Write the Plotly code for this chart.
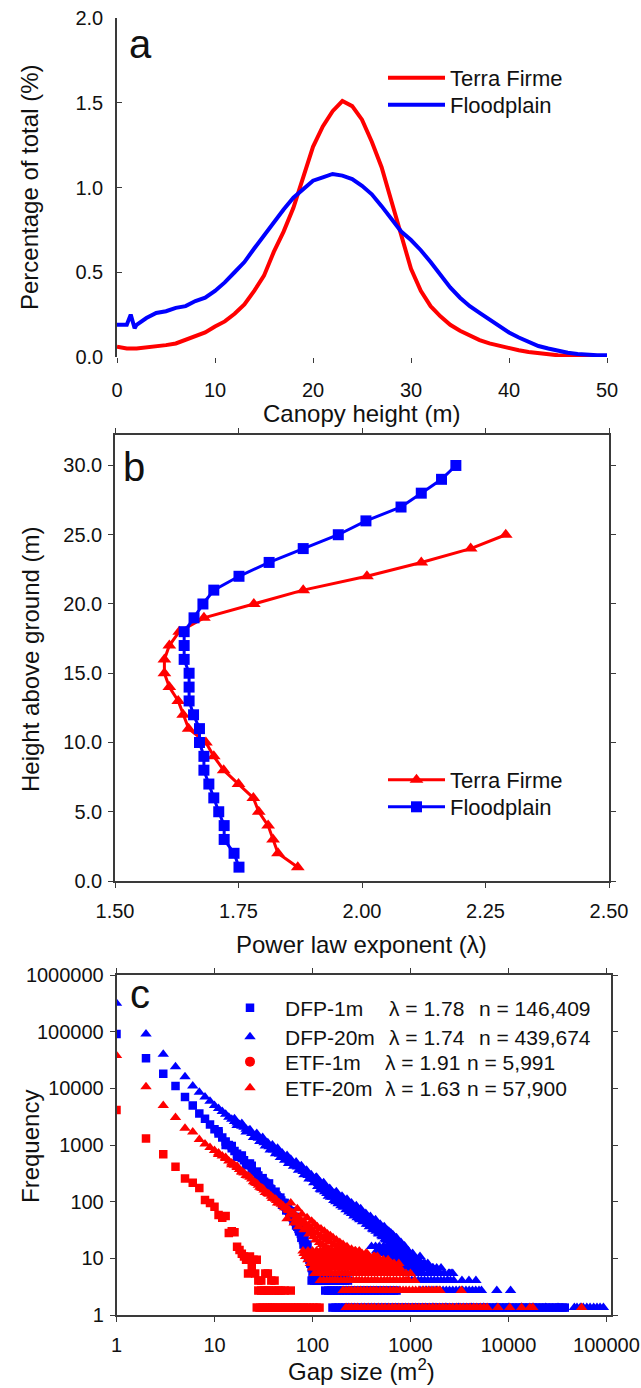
import plotly.graph_objects as go

W, H = 641, 1388
FONT = "Liberation Sans, Arial, sans-serif"
RED = "#FF0000"
BLUE = "#0000FF"
AX = "#3a3a3a"

# ---------------- Panel a: canopy height distribution ----------------
tf_height = [0, 1, 2, 3, 4, 5, 6, 7, 8, 9, 10, 11, 12, 13, 14, 15, 16, 17, 18, 19, 20,
             21, 22, 23, 24, 25, 26, 27, 28, 29, 30, 31, 32, 33, 34, 35, 36, 37, 38, 39, 40,
             41, 42, 43, 44, 45, 46, 47, 48, 49, 50]
tf_pct = [0.06, 0.05, 0.05, 0.055, 0.06, 0.07, 0.08, 0.10, 0.12, 0.145, 0.18, 0.21, 0.255,
          0.31, 0.39, 0.48, 0.62, 0.74, 0.88, 1.06, 1.24, 1.36, 1.45, 1.51, 1.48, 1.40, 1.27,
          1.12, 0.92, 0.70, 0.52, 0.39, 0.30, 0.24, 0.19, 0.155, 0.125, 0.10, 0.08, 0.065,
          0.05, 0.04, 0.03, 0.022, 0.015, 0.01, 0.007, 0.005, 0.004, 0.004, 0.004]
fp_height = [0, 1, 1.4, 1.8, 2, 3, 4, 5, 6, 7, 8, 9, 10, 11, 12, 13, 14, 15, 16, 17, 18, 19, 20,
             21, 22, 23, 24, 25, 26, 27, 28, 29, 30, 31, 32, 33, 34, 35, 36, 37, 38, 39, 40,
             41, 42, 43, 44, 45, 46, 47, 48, 49, 50]
fp_pct = [0.19, 0.19, 0.25, 0.17, 0.19, 0.23, 0.26, 0.27, 0.29, 0.30, 0.33, 0.35, 0.39, 0.44,
          0.50, 0.56, 0.64, 0.72, 0.79, 0.87, 0.94, 0.99, 1.04, 1.06, 1.08, 1.07, 1.05, 1.01,
          0.96, 0.89, 0.81, 0.74, 0.69, 0.63, 0.56, 0.48, 0.41, 0.35, 0.30, 0.26, 0.22, 0.18,
          0.145, 0.115, 0.09, 0.065, 0.05, 0.035, 0.025, 0.018, 0.013, 0.01, 0.01]

# ---------------- Panel b: power law exponent vs height ----------------
tf_b_height = list(range(1, 26))
tf_b_lambda = [1.870, 1.830, 1.820, 1.810, 1.791, 1.780, 1.750, 1.720, 1.700, 1.684,
               1.649, 1.638, 1.628, 1.610, 1.600, 1.600, 1.610, 1.630, 1.680, 1.781,
               1.881, 2.010, 2.120, 2.220, 2.291]
fp_b_height = list(range(1, 31))
fp_b_lambda = [1.751, 1.741, 1.721, 1.721, 1.710, 1.700, 1.690, 1.680, 1.680, 1.671,
               1.671, 1.659, 1.650, 1.650, 1.650, 1.640, 1.640, 1.640, 1.660, 1.678,
               1.700, 1.751, 1.812, 1.881, 1.952, 2.008, 2.079, 2.120, 2.161, 2.190]

# ---------------- Panel c: gap size frequency (gap size, frequency) ----------------
dfp1m = [(1, 91000), (2, 34000), (3, 18000), (4, 11000), (5, 7000), (6, 5000), (7, 3600),
         (8, 2900), (9, 2300), (10, 1900), (11, 1600), (12, 1350), (13, 1150), (14, 1000),
         (15, 880), (16, 780), (17, 700), (18, 640), (19, 590), (20, 540), (22, 460), (24, 390),
         (26, 330), (28, 290), (30, 250), (32, 225), (35, 190), (38, 165), (40, 145), (43, 128),
         (46, 115), (50, 95), (53, 82), (57, 70), (60, 60), (63, 52), (67, 44), (70, 36),
         (74, 30), (78, 24), (82, 19), (85, 15), (88, 12.15), (90, 10.8), (93, 9.45), (95, 8.1),
         (98, 6.75), (100, 5.4),
         (24, 430), (28, 260), (33, 215), (37, 170), (44, 120), (48, 105), (55, 75), (58, 66),
         (62, 58), (65, 48), (69, 40), (72, 33), (76, 27), (80, 21), (84, 17.5), (86, 13.5),
         (91, 12.15), (96, 9.45), (102, 6.75), (106, 8.1), (110, 5.4), (115, 6.75), (118, 5.4),
         (125, 5.4),
         (11, 1750), (13, 1000), (15, 960), (17, 620), (19, 650), (21, 440), (23, 470), (25, 330),
         (27, 340), (29, 240), (31, 260), (34, 180), (36, 210), (39, 140), (42, 150), (45, 105),
         (47, 118), (49, 88), (52, 95), (54, 70), (56, 82), (59, 58), (61, 68), (64, 46), (66, 54),
         (68, 38), (71, 44), (73, 30), (75, 36), (77, 23), (79, 28), (81, 17.5), (83, 22),
         (87, 14.85), (89, 17.5), (92, 12.15), (94, 10.8), (97, 8.1), (99, 9.45), (101, 6.75),
         (103, 8.1), (107, 6.75), (109, 5.4), (112, 6.75), (120, 5.4), (128, 5.4), (135, 5.4),
         (98, 4.05), (104, 4.05), (110, 4.05), (116, 4.05), (122, 4.05), (130, 4.05), (138, 4.05),
         (146, 4.05), (155, 4.05), (165, 4.05), (175, 4.05), (188, 4.05), (200, 4.05), (215, 4.05),
         (230, 4.05),
         (135, 2.7), (145, 2.7), (155, 2.7), (165, 2.7), (178, 2.7), (190, 2.7), (205, 2.7),
         (220, 2.7), (238, 2.7), (255, 2.7), (275, 2.7), (295, 2.7), (320, 2.7), (345, 2.7),
         (370, 2.7), (400, 2.7), (430, 2.7), (465, 2.7), (500, 2.7), (540, 2.7), (585, 2.7),
         (630, 2.7), (680, 2.7), (720, 2.7),
         (160, 1.35), (172, 1.35), (185, 1.35), (200, 1.35), (215, 1.35), (232, 1.35), (250, 1.35),
         (270, 1.35), (290, 1.35), (315, 1.35), (340, 1.35), (365, 1.35), (395, 1.35), (425, 1.35),
         (460, 1.35), (500, 1.35), (540, 1.35), (580, 1.35), (630, 1.35), (680, 1.35), (730, 1.35),
         (790, 1.35), (850, 1.35), (920, 1.35), (1000, 1.35), (1080, 1.35), (1170, 1.35),
         (1260, 1.35), (1360, 1.35), (1470, 1.35), (1590, 1.35), (1720, 1.35), (1860, 1.35),
         (2010, 1.35), (2170, 1.35), (2350, 1.35), (2540, 1.35), (2740, 1.35), (2960, 1.35),
         (3200, 1.35), (3460, 1.35), (3740, 1.35), (4040, 1.35), (4370, 1.35), (4720, 1.35),
         (5100, 1.35), (5510, 1.35), (5950, 1.35), (6430, 1.35), (6950, 1.35), (7510, 1.35),
         (8110, 1.35), (8770, 1.35), (9480, 1.35), (10250, 1.35), (11080, 1.35), (11980, 1.35),
         (12950, 1.35), (14000, 1.35), (15130, 1.35), (16360, 1.35), (17680, 1.35), (19110, 1.35),
         (20660, 1.35), (22330, 1.35), (24140, 1.35), (26100, 1.35), (28210, 1.35), (30500, 1.35),
         (32970, 1.35), (35640, 1.35), (37500, 1.35)]

dfp20m = [(1, 316000), (2, 91000), (3, 40000), (4, 24000), (5, 16000), (6, 11000), (7, 8500),
          (8, 7000), (9, 5900), (10, 5000), (11, 4400), (12, 3900), (13, 3500), (14, 3100),
          (15, 2850), (16, 2600), (17, 2450), (18, 2300), (19, 2150), (20, 2050), (21, 1900),
          (22, 1800), (24, 1600), (26, 1450), (28, 1320), (30, 1200), (32, 1100), (34, 1010),
          (36, 930), (38, 870), (40, 820), (43, 750), (46, 690), (50, 620), (54, 570), (58, 520),
          (62, 480), (66, 445), (70, 410), (75, 375), (80, 340), (85, 315), (90, 290), (95, 270),
          (100, 250), (105, 245), (110, 220), (115, 210), (120, 200), (125, 185), (130, 175),
          (135, 170), (140, 160), (150, 145), (155, 150), (160, 135), (170, 125), (180, 118),
          (190, 110), (200, 105), (210, 100), (220, 92), (230, 88), (245, 80), (260, 75),
          (280, 68), (300, 62), (320, 58), (350, 50), (380, 46), (400, 42), (430, 38), (460, 34),
          (500, 30), (530, 28), (570, 25), (600, 23), (650, 20), (700, 18), (750, 16), (800, 14),
          (850, 13), (900, 11.5), (950, 10.5), (1000, 9.5), (1100, 8.1), (1200, 8.1), (1300, 6.75),
          (110, 270), (120, 165), (130, 215), (140, 140), (150, 170), (160, 120), (175, 150),
          (185, 95), (200, 125), (210, 85), (225, 110), (240, 70), (250, 95), (270, 60), (280, 85),
          (300, 50), (310, 75), (330, 45), (350, 62), (370, 40), (390, 55), (420, 32), (440, 48),
          (470, 28), (490, 40), (520, 24), (540, 36), (560, 21), (600, 30), (620, 19), (660, 26),
          (700, 15), (720, 23), (760, 13.5), (800, 19), (830, 12.15), (870, 16.5), (900, 9.45),
          (950, 13.5), (1000, 8.1), (1050, 12.15), (1100, 6.75), (1150, 9.45), (1250, 10.8),
          (1300, 5.4), (1400, 8.1), (1400, 6.75), (1500, 5.4), (1600, 6.75), (1650, 5.4),
          (1800, 5.4), (2000, 5.4), (2500, 5.4),
          (16, 2900), (17, 2200), (19, 2400), (21, 1700), (23, 1850), (25, 1350), (27, 1600),
          (29, 1150), (31, 1350), (33, 960), (35, 1100), (37, 820), (39, 1000), (42, 700),
          (44, 880), (47, 600), (49, 720), (52, 540), (55, 650), (57, 470), (60, 560), (64, 420),
          (68, 500), (72, 360), (77, 430), (82, 300), (87, 360), (92, 250), (97, 300), (103, 215),
          (108, 265), (113, 185), (118, 230), (123, 160), (128, 205), (133, 150), (138, 180),
          (145, 125), (148, 165), (153, 120), (158, 150), (165, 105), (168, 140), (173, 100),
          (178, 130), (183, 92), (188, 120), (195, 85), (198, 115), (205, 80), (215, 105),
          (220, 72), (228, 95), (235, 66), (242, 88), (250, 62), (258, 82), (265, 56), (275, 75),
          (285, 52), (295, 70), (305, 48), (315, 64), (325, 44), (340, 58), (355, 40), (365, 54),
          (380, 36), (395, 50), (410, 33), (425, 45), (445, 30), (455, 42), (475, 27), (485, 38),
          (510, 25), (525, 35), (550, 22), (580, 31), (590, 20), (630, 28), (640, 18), (680, 24),
          (690, 16), (730, 21), (740, 14.85), (780, 18), (790, 13.5), (820, 16.2), (860, 12.15),
          (880, 14.85), (920, 10.8), (980, 12.15), (1020, 9.45), (1080, 10.8), (1120, 8.1),
          (1180, 9.45), (1230, 6.75), (1280, 8.1), (1350, 6.75), (1450, 6.75), (1550, 5.4),
          (1700, 6.75), (1900, 5.4), (2200, 5.4), (2400, 4.05), (2600, 5.4),
          # dense low-count cloud of the 20 m dataset
          (400, 16.2), (440, 16.2), (480, 16.2), (530, 16.2), (580, 16.2), (640, 16.2),
          (450, 13.5), (500, 13.5), (550, 13.5), (600, 13.5), (660, 13.5), (720, 13.5),
          (500, 12.15), (550, 12.15), (600, 12.15), (660, 12.15), (720, 12.15), (790, 12.15),
          (870, 12.15), (560, 10.8), (610, 10.8), (670, 10.8), (740, 10.8), (810, 10.8),
          (890, 10.8), (980, 10.8), (620, 9.45), (680, 9.45), (750, 9.45), (820, 9.45),
          (900, 9.45), (990, 9.45), (1090, 9.45), (1200, 9.45), (700, 8.1), (770, 8.1),
          (850, 8.1), (930, 8.1), (1020, 8.1), (1120, 8.1), (1230, 8.1), (1350, 8.1), (1500, 8.1),
          (800, 6.75), (880, 6.75), (960, 6.75), (1050, 6.75), (1150, 6.75), (1250, 6.75),
          (1380, 6.75), (1520, 6.75), (1680, 6.75), (1850, 6.75), (2050, 6.75),
          (900, 5.4), (1000, 5.4), (1100, 5.4), (1200, 5.4), (1350, 5.4), (1650, 5.4),
          (1800, 5.4), (2200, 5.4), (2450, 5.4), (2700, 5.4),
          (950, 4.05), (1030, 4.05), (1110, 4.05), (1200, 4.05), (1290, 4.05), (1390, 4.05),
          (1500, 4.05), (1620, 4.05), (1750, 4.05), (1890, 4.05), (2040, 4.05), (2200, 4.05),
          (2370, 4.05), (2560, 4.05), (2760, 4.05), (3350, 4.05), (3950, 4.05), (4650, 4.05),
          (1250, 2.7), (1350, 2.7), (1460, 2.7), (1580, 2.7), (1700, 2.7), (1840, 2.7),
          (1990, 2.7), (2150, 2.7), (2320, 2.7), (2500, 2.7), (2700, 2.7), (2920, 2.7),
          (3150, 2.7), (3400, 2.7), (3680, 2.7), (3970, 2.7), (4290, 2.7), (4630, 2.7),
          (5000, 2.7), (5300, 2.7), (7600, 2.7), (10500, 2.7),
          (1700, 1.35), (2300, 1.35), (3100, 1.35), (4200, 1.35), (5600, 1.35), (7500, 1.35),
          (10000, 1.35), (13500, 1.35), (18000, 1.35), (24000, 1.35), (32000, 1.35),
          (47000, 1.35), (50000, 1.35), (54000, 1.35), (58000, 1.35), (63000, 1.35),
          (68000, 1.35), (74000, 1.35), (80000, 1.35), (86000, 1.35), (93000, 1.35)]

etf1m = [(1, 4150), (2, 1300), (3, 690), (4, 415), (5, 257), (6, 215), (7, 174), (8, 107),
         (9, 95), (10, 81), (11, 58), (12, 52), (13, 56), (14, 28), (15, 30), (16, 29), (17, 16),
         (18, 14), (19, 12), (20, 10.8), (21, 9.45), (23, 10.8), (25, 9.45), (27, 9.45),
         (22, 5.4), (24, 6.75), (26, 5.4), (33, 5.4), (35, 5.4), (28, 4.05), (30, 4.05),
         (38, 4.05), (41, 4.05),
         (28, 2.7), (30, 2.7), (32, 2.7), (34, 2.7), (36, 2.7), (39, 2.7), (42, 2.7), (45, 2.7),
         (48, 2.7), (52, 2.7), (60, 2.7),
         (27, 1.35), (29, 1.35), (31, 1.35), (33, 1.35), (35, 1.35), (37, 1.35), (39, 1.35),
         (41, 1.35), (44, 1.35), (47, 1.35), (50, 1.35), (53, 1.35), (56, 1.35), (60, 1.35),
         (64, 1.35), (68, 1.35), (72, 1.35), (77, 1.35), (82, 1.35), (88, 1.35), (94, 1.35),
         (102, 1.35), (110, 1.35), (118, 1.35)]

etf20m = [(1, 38000), (2, 10700), (3, 5000), (4, 3070), (5, 1970), (6, 1700), (7, 1250),
          (8, 1040), (9, 900), (10, 800), (11, 720), (12, 640), (13, 580), (14, 520), (15, 480),
          (16, 440), (17, 400), (18, 370), (19, 345), (20, 320), (22, 285), (24, 250), (26, 215),
          (28, 195), (30, 175), (32, 160), (35, 140), (38, 125), (40, 115), (43, 105), (46, 95),
          (50, 85), (54, 78), (58, 70), (62, 64), (66, 58), (70, 53), (75, 48), (80, 44), (85, 40),
          (90, 37), (95, 34), (100, 31), (110, 28), (120, 25), (130, 23), (140, 21), (150, 19.5),
          (165, 17.5), (180, 16), (200, 14.5), (220, 13.5), (240, 12.15), (260, 10.8), (290, 10.8),
          (320, 9.45), (350, 9.45), (380, 8.1), (420, 8.1), (460, 6.75), (500, 6.75), (550, 6.75),
          (600, 5.4), (650, 5.4), (700, 5.4), (750, 5.4), (800, 5.4), (850, 4.05),
          (11, 680), (13, 600), (15, 450), (17, 420), (19, 330), (21, 290), (23, 270), (25, 225),
          (27, 210), (29, 180), (31, 170), (33, 145), (36, 135), (39, 115), (42, 110), (44, 95),
          (48, 90), (52, 78), (56, 72), (60, 62), (64, 60), (68, 52), (73, 50), (77, 44), (83, 42),
          (87, 36), (93, 35), (97, 30),
          (55, 50), (60, 95), (65, 42), (70, 75), (72, 36), (78, 60), (82, 32), (88, 52), (92, 27),
          (98, 45), (102, 24), (105, 40), (108, 21), (112, 36), (118, 19), (122, 33), (126, 17.5),
          (132, 30), (136, 16), (142, 27), (146, 14.5), (152, 25), (158, 13.5), (162, 23),
          (168, 12.15), (175, 21), (185, 10.8), (190, 19), (196, 9.45), (205, 17.5), (215, 8.1),
          (225, 16), (235, 10.8), (250, 14.5), (265, 8.1), (275, 13.5), (285, 6.75), (300, 12.15),
          (310, 8.1), (330, 10.8), (340, 6.75), (360, 12.15), (375, 5.4), (390, 9.45), (410, 6.75),
          (430, 10.8), (450, 5.4), (470, 8.1), (490, 9.45), (520, 5.4), (540, 8.1), (570, 6.75),
          (590, 9.45), (620, 6.75), (680, 8.1), (720, 6.75), (760, 8.1), (780, 6.75), (820, 5.4),
          (900, 5.4), (950, 4.05), (1000, 5.4), (1100, 4.05),
          # dense low-count cloud of the 20 m terra firme dataset
          (80, 13.5), (90, 13.5), (100, 13.5), (110, 13.5), (120, 13.5), (132, 13.5), (144, 13.5),
          (157, 13.5), (172, 13.5), (188, 13.5), (205, 13.5), (225, 13.5), (248, 13.5),
          (272, 13.5), (300, 13.5),
          (82, 12.15), (92, 12.15), (102, 12.15), (112, 12.15), (122, 12.15), (134, 12.15),
          (146, 12.15), (160, 12.15), (175, 12.15), (190, 12.15), (207, 12.15), (225, 12.15),
          (245, 12.15), (268, 12.15), (292, 12.15), (320, 12.15), (350, 12.15),
          (85, 10.8), (95, 10.8), (105, 10.8), (115, 10.8), (125, 10.8), (137, 10.8), (150, 10.8),
          (163, 10.8), (177, 10.8), (192, 10.8), (208, 10.8), (225, 10.8), (245, 10.8),
          (265, 10.8), (290, 10.8), (315, 10.8), (345, 10.8), (380, 10.8), (420, 10.8), (460, 10.8),
          (90, 9.45), (100, 9.45), (110, 9.45), (120, 9.45), (130, 9.45), (142, 9.45), (155, 9.45),
          (168, 9.45), (182, 9.45), (198, 9.45), (215, 9.45), (232, 9.45), (250, 9.45),
          (272, 9.45), (295, 9.45), (320, 9.45), (345, 9.45), (375, 9.45), (410, 9.45),
          (445, 9.45), (485, 9.45), (530, 9.45),
          (95, 8.1), (105, 8.1), (115, 8.1), (125, 8.1), (135, 8.1), (148, 8.1), (160, 8.1),
          (172, 8.1), (185, 8.1), (200, 8.1), (215, 8.1), (232, 8.1), (250, 8.1), (270, 8.1),
          (290, 8.1), (315, 8.1), (340, 8.1), (365, 8.1), (395, 8.1), (430, 8.1), (465, 8.1),
          (500, 8.1), (540, 8.1), (590, 8.1), (640, 8.1),
          (100, 6.75), (110, 6.75), (120, 6.75), (130, 6.75), (140, 6.75), (150, 6.75),
          (160, 6.75), (175, 6.75), (190, 6.75), (205, 6.75), (220, 6.75), (240, 6.75),
          (260, 6.75), (280, 6.75), (300, 6.75), (325, 6.75), (350, 6.75), (380, 6.75),
          (410, 6.75), (440, 6.75), (480, 6.75), (520, 6.75), (560, 6.75), (610, 6.75),
          (660, 6.75), (710, 6.75),
          (105, 5.4), (115, 5.4), (125, 5.4), (135, 5.4), (145, 5.4), (155, 5.4), (170, 5.4),
          (185, 5.4), (200, 5.4), (215, 5.4), (230, 5.4), (250, 5.4), (270, 5.4), (295, 5.4),
          (320, 5.4), (350, 5.4), (380, 5.4), (410, 5.4), (440, 5.4), (480, 5.4), (520, 5.4),
          (560, 5.4), (600, 5.4), (650, 5.4), (700, 5.4), (760, 5.4), (820, 5.4),
          (120, 4.05), (130, 4.05), (140, 4.05), (150, 4.05), (160, 4.05), (170, 4.05), (180, 4.05),
          (195, 4.05), (210, 4.05), (225, 4.05), (240, 4.05), (260, 4.05), (280, 4.05), (300, 4.05),
          (320, 4.05), (345, 4.05), (370, 4.05), (400, 4.05), (430, 4.05), (460, 4.05), (500, 4.05),
          (540, 4.05), (580, 4.05), (620, 4.05), (670, 4.05), (720, 4.05), (780, 4.05), (840, 4.05),
          (900, 4.05), (960, 4.05),
          (205, 2.7), (220, 2.7), (235, 2.7), (250, 2.7), (270, 2.7), (290, 2.7), (310, 2.7),
          (335, 2.7), (360, 2.7), (390, 2.7), (420, 2.7), (450, 2.7), (490, 2.7), (530, 2.7),
          (570, 2.7), (620, 2.7), (670, 2.7), (720, 2.7), (780, 2.7), (840, 2.7), (900, 2.7),
          (970, 2.7), (1050, 2.7), (1130, 2.7), (1220, 2.7), (1320, 2.7), (1420, 2.7), (1530, 2.7),
          (1650, 2.7), (1780, 2.7), (1900, 2.7), (2000, 2.7), (3300, 2.7),
          (220, 1.35), (235, 1.35), (250, 1.35), (270, 1.35), (290, 1.35), (315, 1.35), (340, 1.35),
          (370, 1.35), (400, 1.35), (430, 1.35), (470, 1.35), (510, 1.35), (550, 1.35), (600, 1.35),
          (650, 1.35), (700, 1.35), (760, 1.35), (820, 1.35), (890, 1.35), (960, 1.35),
          (1040, 1.35), (1130, 1.35), (1220, 1.35), (1320, 1.35), (1430, 1.35), (1550, 1.35),
          (1680, 1.35), (1820, 1.35), (1970, 1.35), (2130, 1.35), (2300, 1.35), (2500, 1.35),
          (2700, 1.35), (2950, 1.35), (3200, 1.35), (3450, 1.35), (3750, 1.35), (4050, 1.35),
          (4400, 1.35), (4750, 1.35), (5150, 1.35), (5600, 1.35), (6050, 1.35), (7800, 1.35),
          (10300, 1.35), (13600, 1.35), (16500, 1.35), (17700, 1.35), (55800, 1.35)]

legend_c_names = ["DFP-1m", "DFP-20m", "ETF-1m", "ETF-20m"]
legend_c_lambda = ["λ = 1.78", "λ = 1.74", "λ = 1.91", "λ = 1.63"]
legend_c_n = ["n = 146,409", "n = 439,674", "n = 5,991", "n = 57,900"]

# ---------------- helpers ----------------
def px(x):
    return x / W

def py(y):
    return 1 - y / H

fig = go.Figure()

# panel a
fig.add_trace(go.Scatter(x=tf_height, y=tf_pct, mode="lines", name="Terra Firme",
                         line=dict(color=RED, width=4), xaxis="x", yaxis="y", legend="legend"))
fig.add_trace(go.Scatter(x=fp_height, y=fp_pct, mode="lines", name="Floodplain",
                         line=dict(color=BLUE, width=4), xaxis="x", yaxis="y", legend="legend2"))

# panel b
fig.add_trace(go.Scatter(x=tf_b_lambda, y=tf_b_height, mode="lines+markers", name="Terra Firme",
                         line=dict(color=RED, width=3),
                         marker=dict(symbol="triangle-up", size=12, color=RED),
                         xaxis="x2", yaxis="y2", legend="legend3"))
fig.add_trace(go.Scatter(x=fp_b_lambda, y=fp_b_height, mode="lines+markers", name="Floodplain",
                         line=dict(color=BLUE, width=3),
                         marker=dict(symbol="square", size=11, color=BLUE),
                         xaxis="x2", yaxis="y2", legend="legend4"))

# panel c
def xy(pairs):
    return [p[0] for p in pairs], [p[1] for p in pairs]

for pairs, sym, size, col, name, leg in [
        (dfp1m, "square", 8.5, BLUE, "DFP-1m", "legend5"),
        (dfp20m, "triangle-up", 10, BLUE, "DFP-20m", "legend6"),
        (etf1m, "square", 8.5, RED, "ETF-1m", "legend7"),
        (etf20m, "triangle-up", 10, RED, "ETF-20m", "legend8")]:
    gx, gy = xy(pairs)
    fig.add_trace(go.Scatter(x=gx, y=gy, mode="markers", name=name,
                             marker=dict(symbol=sym, size=size, color=col, line=dict(width=0)),
                             xaxis="x3", yaxis="y3", legend=leg,
                             showlegend=(name != "ETF-1m")))
# legend-only circle symbol for ETF-1m
fig.add_trace(go.Scatter(x=[None], y=[None], mode="markers", name="ETF-1m",
                         marker=dict(symbol="circle", size=10, color=RED),
                         xaxis="x3", yaxis="y3", legend="legend7"))

axis_common = dict(showgrid=False, zeroline=False, linecolor=AX, linewidth=1.5,
                   tickcolor=AX, tickwidth=1.2, ticklen=5, automargin=False,
                   tickfont=dict(family=FONT, size=20, color="#111"))

layout = dict(
    width=W, height=H, margin=dict(l=0, r=0, t=0, b=0, pad=0, autoexpand=False),
    paper_bgcolor="white", plot_bgcolor="white", showlegend=True,
    font=dict(family=FONT, color="#111"),
    xaxis=dict(domain=[px(117), px(607)], range=[0, 50], anchor="y",
               tickvals=[0, 10, 20, 30, 40, 50], ticks="outside", showline=False,
               ticklabelstandoff=10, **axis_common),
    yaxis=dict(domain=[py(357), py(18)], range=[0, 2], anchor="x",
               tickvals=[0, 0.5, 1.0, 1.5, 2.0], ticktext=["0.0", "0.5", "1.0", "1.5", "2.0"],
               ticks="inside", showline=True, ticklabelstandoff=8, **axis_common),
    xaxis2=dict(domain=[px(115), px(609)], range=[1.5, 2.5], anchor="y2",
                tickvals=[1.5, 1.75, 2.0, 2.25, 2.5],
                ticktext=["1.50", "1.75", "2.00", "2.25", "2.50"],
                ticks="outside", showline=True, mirror="ticks", ticklabelstandoff=6, **axis_common),
    yaxis2=dict(domain=[py(881), py(435)], range=[0, 32.2], anchor="x2",
                tickvals=[0, 5, 10, 15, 20, 25, 30],
                ticktext=["0.0", "5.0", "10.0", "15.0", "20.0", "25.0", "30.0"],
                ticks="outside", showline=True, mirror="ticks", ticklabelstandoff=2, **axis_common),
    xaxis3=dict(domain=[px(116.5), px(611)], type="log", range=[0, 5.046], anchor="y3",
                tickvals=[1, 10, 100, 1000, 10000, 100000],
                ticktext=["1", "10", "100", "1000", "10000", "100000"],
                ticks="outside", showline=True, mirror="ticks", ticklabelstandoff=6, **axis_common),
    yaxis3=dict(domain=[py(1315), py(975)], type="log", range=[0, 6], anchor="x3",
                tickvals=[1, 10, 100, 1000, 10000, 100000, 1000000],
                ticktext=["1", "10", "100", "1000", "10000", "100000", "1000000"],
                ticks="outside", showline=True, mirror="ticks", ticklabelstandoff=2, **axis_common),
)

def legend_at(xp, yp, iw=57, size=22):
    return dict(x=px(xp), y=py(yp), xanchor="left", yanchor="middle", bgcolor="rgba(0,0,0,0)",
                font=dict(family=FONT, size=size, color="#111"), itemwidth=iw, borderwidth=0,
                visible=True)

layout["legend"] = legend_at(383, 78)
layout["legend2"] = legend_at(383, 105)
layout["legend3"] = legend_at(383, 780)
layout["legend4"] = legend_at(383, 807)
for i, yrow in enumerate([1008, 1037, 1062, 1088]):
    layout["legend%d" % (5 + i)] = legend_at(215, yrow, iw=60, size=21)

fig.update_layout(**layout)

ann = []
def text(x, y, t, size=24, angle=0, xanchor="center"):
    ann.append(dict(x=px(x), y=py(y), xref="paper", yref="paper", text=t, showarrow=False,
                    textangle=angle, xanchor=xanchor, yanchor="middle",
                    font=dict(family=FONT, size=size, color="#111")))

text(30, 188, "Percentage of total (%)", angle=-90)
text(361, 413, "Canopy height (m)")
text(30, 660, "Height above ground (m)", angle=-90)
text(361, 944, "Power law exponent (λ)")
text(30, 1147, "Frequency", angle=-90)
text(361, 1370, "Gap size (m<sup>2</sup>)")
text(140, 44, "a", size=40)
text(134, 467, "b", size=40)
text(140, 994, "c", size=40)

lam_x = [387, 387, 383, 383]
n_x = [477, 477, 465, 465]
for i, yrow in enumerate([1008, 1037, 1062, 1088]):
    text(lam_x[i], yrow, legend_c_lambda[i], size=21, xanchor="left")
    text(n_x[i], yrow, legend_c_n[i], size=21, xanchor="left")

fig.update_layout(annotations=ann)
fig.write_html("out.html", config={"displayModeBar": False},
               post_script="document.body.style.margin='0px';"
                           "document.documentElement.style.overflow='hidden';")
